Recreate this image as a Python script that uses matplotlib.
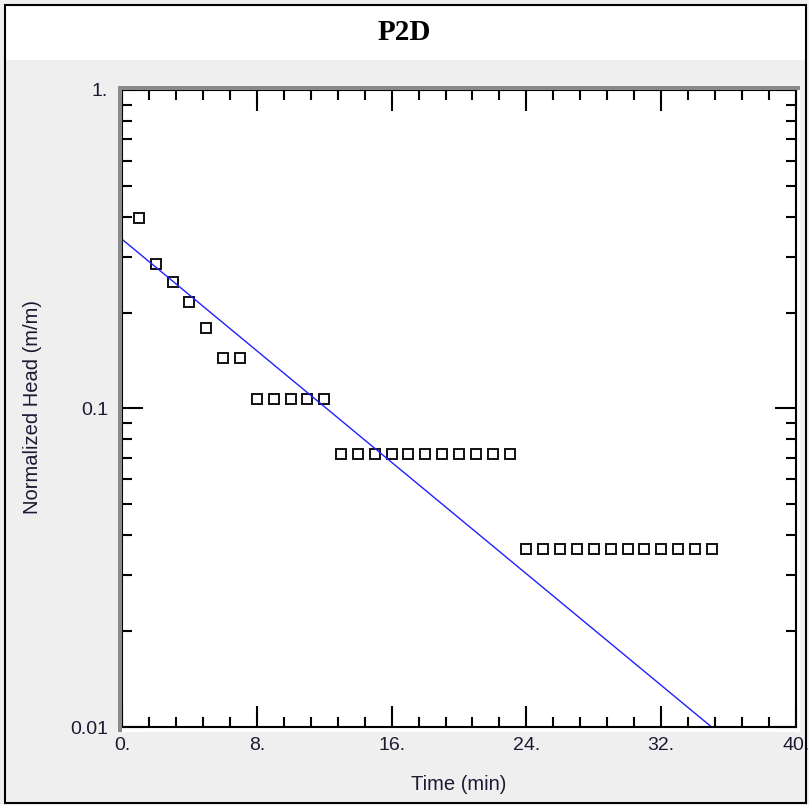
import numpy as np
import matplotlib.pyplot as plt
from matplotlib.patches import Rectangle
from matplotlib.ticker import FixedLocator, LogLocator, NullFormatter

# data
time_min = np.arange(1, 36)
head = ([0.396, 0.284, 0.249, 0.216, 0.179, 0.144, 0.144]
        + [0.107] * 5
        + [0.072] * 11
        + [0.0362] * 12)
fit_t = [0.0, 40.0]
fit_y0 = 0.34      # fitted line at t = 0
fit_slope = -0.04377  # log10 decline per minute

x_ticks = [0, 8, 16, 24, 32, 40]
x_tick_labels = ['0.', '8.', '16.', '24.', '32.', '40.']
y_ticks = [0.01, 0.1, 1.0]
y_tick_labels = ['0.01', '0.1', '1.']

W, H = 809, 805
fig = plt.figure(figsize=(W / 100, H / 100), dpi=100)
fig.patch.set_facecolor('#efefef')

def px(x0, y0, x1, y1):
    # pixel box (top-left origin) -> figure fractions
    return (x0 / W, 1 - y1 / H, (x1 - x0) / W, (y1 - y0) / H)

# title band and outer frame
l, b, w, h = px(5, 5, 806, 60)
fig.add_artist(Rectangle((l, b), w, h, transform=fig.transFigure,
                         facecolor='white', edgecolor='none', zorder=0))
l, b, w, h = px(5, 5, 806, 803)
fig.add_artist(Rectangle((l, b), w, h, transform=fig.transFigure,
                         facecolor='none', edgecolor='black', lw=1.5, zorder=5))
fig.text(0.5, 1 - 32 / H, 'P2D', ha='center', va='center',
         family='Liberation Serif', weight='bold', fontsize=21)

# sunken frame round the plot
l, b, w, h = px(118, 86, 800, 732)
fig.add_artist(Rectangle((l, b), w, h, transform=fig.transFigure,
                         facecolor='white', edgecolor='none', zorder=0))
l, b, w, h = px(118, 86, 800, 90)
fig.add_artist(Rectangle((l, b), w, h, transform=fig.transFigure,
                         facecolor='#8a8a8a', edgecolor='none', zorder=1))
l, b, w, h = px(118, 86, 122, 732)
fig.add_artist(Rectangle((l, b), w, h, transform=fig.transFigure,
                         facecolor='#8a8a8a', edgecolor='none', zorder=1))

ax = fig.add_axes(px(122, 90, 796, 727))
ax.set_facecolor('white')
ax.set_yscale('log')
ax.set_xlim(0, 40)
ax.set_ylim(0.01, 1.0)

ax.plot(time_min, head, linestyle='none', marker='s', markersize=7,
        markerfacecolor='none', markeredgecolor='#111111', markeredgewidth=1.4,
        clip_on=False)
t = np.array(fit_t)
ax.plot(t, fit_y0 * 10 ** (fit_slope * t), color='#2020ff', lw=1)

ax.xaxis.set_major_locator(FixedLocator(x_ticks))
ax.xaxis.set_minor_locator(FixedLocator(np.arange(0, 40.01, 1.6)))
ax.set_xticklabels(x_tick_labels)
ax.yaxis.set_major_locator(FixedLocator(y_ticks))
ax.yaxis.set_minor_locator(LogLocator(base=10, subs=np.arange(2, 10)))
ax.yaxis.set_minor_formatter(NullFormatter())
ax.set_yticklabels(y_tick_labels)

ax.tick_params(which='both', direction='in', top=True, right=True,
               color='black', width=1.5, labelsize=14, labelcolor='#1a1a33')
ax.tick_params(which='major', length=15)
ax.tick_params(which='minor', length=7)
ax.tick_params(axis='x', which='major', pad=7)
ax.tick_params(axis='y', which='major', pad=10)
for lab in ax.get_xticklabels() + ax.get_yticklabels():
    lab.set_family('Liberation Sans')
for s in ax.spines.values():
    s.set_linewidth(1.5)
    s.set_color('black')

fig.text(459 / W, 1 - 784 / H, 'Time (min)', ha='center', va='center',
         family='Liberation Sans', fontsize=14.5, color='#1a1a33')
fig.text(33 / W, 1 - 407 / H, 'Normalized Head (m/m)', ha='center', va='center',
         rotation=90, family='Liberation Sans', fontsize=14.5, color='#1a1a33')

fig.savefig('out.png', dpi=100, facecolor=fig.get_facecolor())
